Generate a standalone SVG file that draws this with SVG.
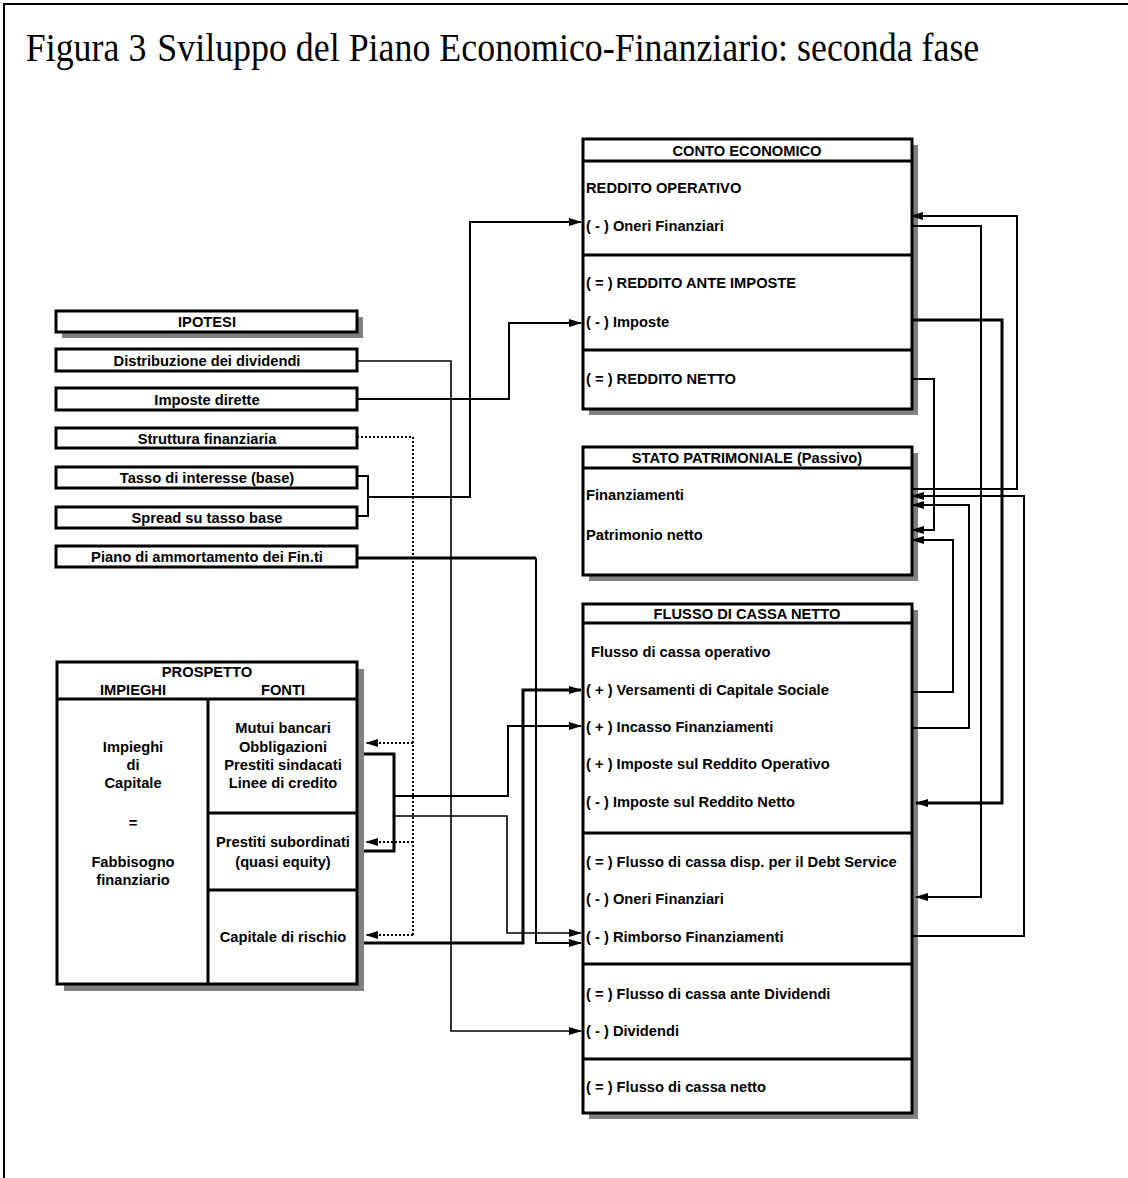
<svg xmlns="http://www.w3.org/2000/svg" width="1128" height="1178" viewBox="0 0 1128 1178">
<defs>
<marker id="ah" markerWidth="13" markerHeight="8" refX="12" refY="4" orient="auto" markerUnits="userSpaceOnUse"><path d="M0,0 L13,4 L0,8 z" fill="#000"/></marker>
</defs>
<style>
.t{font-family:"Liberation Sans",Arial,sans-serif;font-weight:bold;font-size:14.7px;fill:#000}
.c{text-anchor:middle}
.ttl{font-family:"Liberation Serif","Times New Roman",serif;font-size:39px;fill:#000}
.box{fill:#fff;stroke:#000;stroke-width:3}
.sh{fill:#808080}
.dv{stroke:#000;stroke-width:3;fill:none}
.ln{fill:none;stroke:#000;stroke-width:2}
.th{stroke-width:3}
.tn{stroke-width:1.6}
.dot{stroke-dasharray:2 2;stroke-width:2}
</style>
<rect width="1128" height="1178" fill="#fff"/>
<path d="M4,1178 V4 H1128" fill="none" stroke="#000" stroke-width="2"/>
<g transform="scale(0.92,1)">
<text class="ttl" x="28" y="61">Figura 3</text>
<text class="ttl" x="171" y="61">Sviluppo del Piano Economico-Finanziario: seconda fase</text>
</g>

<g id="ipotesi">
<rect class="sh" x="62" y="317" width="301" height="21"/>
<rect class="box" x="56" y="311" width="301" height="21"/>
<text class="t c" x="207" y="327">IPOTESI</text>
</g>
<g id="distribuzione">
<rect class="box" x="56" y="349" width="301" height="22"/>
<text class="t c" x="207" y="365.5">Distribuzione dei dividendi</text>
</g>
<g id="imposte-dirette">
<rect class="box" x="56" y="388" width="301" height="22"/>
<text class="t c" x="207" y="404.5">Imposte dirette</text>
</g>
<g id="struttura">
<rect class="box" x="56" y="428" width="301" height="20"/>
<text class="t c" x="207" y="443.5">Struttura finanziaria</text>
</g>
<g id="tasso">
<rect class="box" x="56" y="467" width="301" height="21"/>
<text class="t c" x="207" y="483">Tasso di interesse (base)</text>
</g>
<g id="spread">
<rect class="box" x="56" y="507" width="301" height="21"/>
<text class="t c" x="207" y="523">Spread su tasso base</text>
</g>
<g id="piano">
<rect class="box" x="56" y="546" width="301" height="21"/>
<text class="t c" x="207" y="562">Piano di ammortamento dei Fin.ti</text>
</g>

<g id="prospetto">
<rect class="sh" x="64" y="669" width="300" height="322"/>
<rect class="box" x="57" y="662" width="300" height="322"/>
<path class="dv" d="M57,699 H357 M208,699 V984 M208,813 H357 M208,890 H357"/>
<text class="t c" x="207" y="677">PROSPETTO</text>
<text class="t c" x="133" y="695">IMPIEGHI</text>
<text class="t c" x="283" y="695">FONTI</text>
<text class="t c" x="133" y="752">Impieghi</text>
<text class="t c" x="133" y="770">di</text>
<text class="t c" x="133" y="788">Capitale</text>
<text class="t c" x="133" y="828">=</text>
<text class="t c" x="133" y="867">Fabbisogno</text>
<text class="t c" x="133" y="885">finanziario</text>
<text class="t c" x="283" y="733">Mutui bancari</text>
<text class="t c" x="283" y="752">Obbligazioni</text>
<text class="t c" x="283" y="770">Prestiti sindacati</text>
<text class="t c" x="283" y="788">Linee di credito</text>
<text class="t c" x="283" y="847">Prestiti subordinati</text>
<text class="t c" x="283" y="867">(quasi equity)</text>
<text class="t c" x="283" y="942">Capitale di rischio</text>
</g>

<g id="conto-economico">
<rect class="sh" x="589" y="145" width="329" height="270"/>
<rect class="box" x="583" y="139" width="329" height="270"/>
<path class="dv" d="M583,161 H912 M583,255 H912 M583,350 H912"/>
<text class="t c" x="747" y="155.5">CONTO ECONOMICO</text>
<text class="t" x="586" y="193">REDDITO OPERATIVO</text>
<text class="t" x="586" y="231">( - ) Oneri Finanziari</text>
<text class="t" x="586" y="288">( = ) REDDITO ANTE IMPOSTE</text>
<text class="t" x="586" y="327">( - ) Imposte</text>
<text class="t" x="586" y="384">( = ) REDDITO NETTO</text>
</g>

<g id="stato-patrimoniale">
<rect class="sh" x="589" y="453" width="329" height="128"/>
<rect class="box" x="583" y="447" width="329" height="128"/>
<path class="dv" d="M583,468 H912"/>
<text class="t c" x="747" y="463">STATO PATRIMONIALE (Passivo)</text>
<text class="t" x="586" y="500">Finanziamenti</text>
<text class="t" x="586" y="540">Patrimonio netto</text>
</g>

<g id="flusso-di-cassa">
<rect class="sh" x="589" y="610" width="329" height="509"/>
<rect class="box" x="583" y="604" width="329" height="509"/>
<path class="dv" d="M583,623 H912 M583,833 H912 M583,964 H912 M583,1059 H912"/>
<text class="t c" x="747" y="618.5">FLUSSO DI CASSA NETTO</text>
<text class="t" x="591" y="657">Flusso di cassa operativo</text>
<text class="t" x="586" y="695">( + ) Versamenti di Capitale Sociale</text>
<text class="t" x="586" y="732">( + ) Incasso Finanziamenti</text>
<text class="t" x="586" y="769">( + ) Imposte sul Reddito Operativo</text>
<text class="t" x="586" y="807">( - ) Imposte sul Reddito Netto</text>
<text class="t" x="586" y="867">( = ) Flusso di cassa disp. per il Debt Service</text>
<text class="t" x="586" y="904">( - ) Oneri Finanziari</text>
<text class="t" x="586" y="942">( - ) Rimborso Finanziamenti</text>
<text class="t" x="586" y="999">( = ) Flusso di cassa ante Dividendi</text>
<text class="t" x="586" y="1036">( - ) Dividendi</text>
<text class="t" x="586" y="1092">( = ) Flusso di cassa netto</text>
</g>

<g id="connectors">
<path class="ln tn" d="M357,361 H451 V1031 H581" marker-end="url(#ah)"/>
<path class="ln" d="M357,399 H509 V323 H581" marker-end="url(#ah)"/>
<path class="ln dot" d="M357,437 H413 V935"/>
<path class="ln dot" d="M413,743 H366" marker-end="url(#ah)"/>
<path class="ln dot" d="M413,842 H366" marker-end="url(#ah)"/>
<path class="ln dot" d="M413,935 H366" marker-end="url(#ah)"/>
<path class="ln" d="M357,476 H368 V516 H357"/>
<path class="ln" d="M368,497 H470 V222 H581" marker-end="url(#ah)"/>
<path class="ln th" d="M357,558 H536"/>
<path class="ln" d="M536,558 V943 H581" marker-end="url(#ah)"/>
<path class="ln th" d="M364,754 H394 V851 H364"/>
<path class="ln" d="M394,796 H508 V726 H581" marker-end="url(#ah)"/>
<path class="ln tn" d="M394,816 H507 V933 H581" marker-end="url(#ah)"/>
<path class="ln th" d="M364,943 H523 V690 H581" marker-end="url(#ah)"/>
<path class="ln" d="M912,226 H981 V897 H916" marker-end="url(#ah)"/>
<path class="ln" d="M912,489 H1017 V216 H911" marker-end="url(#ah)"/>
<path class="ln th" d="M912,320 H1002 V803 H916" marker-end="url(#ah)"/>
<path class="ln" d="M912,379 H934 V530 H912" marker-end="url(#ah)"/>
<path class="ln" d="M912,692 H953 V540 H912" marker-end="url(#ah)"/>
<path class="ln" d="M912,728 H969 V505 H912" marker-end="url(#ah)"/>
<path class="ln" d="M912,936 H1024 V496 H912" marker-end="url(#ah)"/>
</g>
</svg>
